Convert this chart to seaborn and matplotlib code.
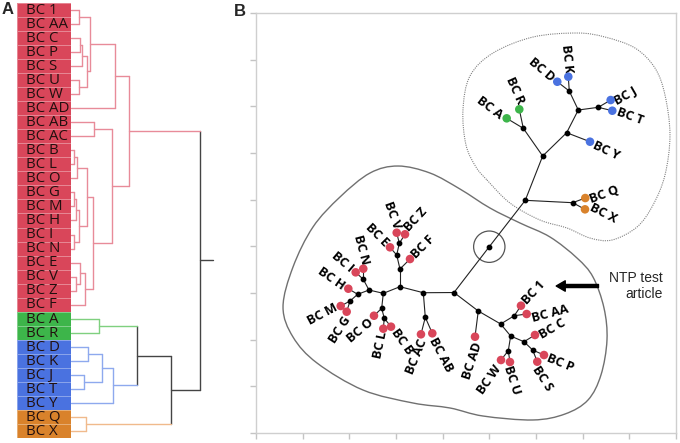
import numpy as np
import pandas as pd
import matplotlib
matplotlib.use("Agg")
import matplotlib.pyplot as plt
import seaborn as sns
from matplotlib.colors import ListedColormap
from matplotlib.path import Path
from matplotlib.patches import PathPatch, Circle

sns.set_style("white")
plt.rcParams["font.family"] = ["Open Sans", "DejaVu Sans"]

# -----------------------------
# Panel A: dendrogram data
# -----------------------------
leaf_names = ["BC 1", "BC AA", "BC C", "BC P", "BC S", "BC U", "BC W", "BC AD",
              "BC AB", "BC AC", "BC B", "BC L", "BC O", "BC G", "BC M", "BC H",
              "BC I", "BC N", "BC E", "BC V", "BC Z", "BC F", "BC A", "BC R",
              "BC D", "BC K", "BC J", "BC T", "BC Y", "BC Q", "BC X"]
leaf_groups = ["red"] * 22 + ["green"] * 2 + ["blue"] * 5 + ["orange"] * 2

# (node, left child, right child, merge distance)
merges = [
    ("1AA", "BC 1", "BC AA", 0.083),
    ("CP", "BC C", "BC P", 0.090),
    ("CPS", "CP", "BC S", 0.110),
    ("UW", "BC U", "BC W", 0.083),
    ("CPSUW", "CPS", "UW", 0.155),
    ("r1", "1AA", "CPSUW", 0.190),
    ("r2", "r1", "BC AD", 0.440),
    ("ABAC", "BC AB", "BC AC", 0.233),
    ("BL", "BC B", "BC L", 0.030),
    ("BLO", "BL", "BC O", 0.060),
    ("GM", "BC G", "BC M", 0.025),
    ("GMH", "GM", "BC H", 0.050),
    ("IN", "BC I", "BC N", 0.025),
    ("GMHIN", "GMH", "IN", 0.083),
    ("BN", "BLO", "GMHIN", 0.160),
    ("VZ", "BC V", "BC Z", 0.050),
    ("EVZ", "BC E", "VZ", 0.085),
    ("EVZF", "EVZ", "BC F", 0.143),
    ("BF", "BN", "EVZF", 0.223),
    ("ABF", "ABAC", "BF", 0.407),
    ("red", "r2", "ABF", 0.577),
    ("AR", "BC A", "BC R", 0.283),
    ("DK", "BC D", "BC K", 0.167),
    ("JT", "BC J", "BC T", 0.130),
    ("DKJT", "DK", "JT", 0.307),
    ("DKJTY", "DKJT", "BC Y", 0.423),
    ("GB", "AR", "DKJTY", 0.663),
    ("QX", "BC Q", "BC X", 0.150),
    ("GBO", "GB", "QX", 1.000),
    ("root", "red", "GBO", 1.290),
]

# -----------------------------
# Panel B: unrooted tree data
# -----------------------------
tree_leaves = ["BC A", "BC R", "BC D", "BC K", "BC J", "BC T", "BC Y", "BC Q", "BC X",
               "BC E", "BC V", "BC Z", "BC F", "BC I", "BC N", "BC H", "BC M", "BC G",
               "BC O", "BC L", "BC B", "BC AC", "BC AB", "BC AD", "BC 1", "BC AA",
               "BC C", "BC P", "BC S", "BC W", "BC U"]
tree_groups = ["green", "green", "blue", "blue", "blue", "blue", "blue", "orange", "orange"] + ["red"] * 22
leaf_x = [5.372, 5.642, 6.456, 6.692, 7.600, 7.635, 7.157, 7.056, 7.050,
          2.871, 3.015, 3.193, 3.300, 2.136, 2.299, 1.978, 1.815, 1.943,
          2.528, 2.728, 2.893, 3.535, 3.778, 4.693, 5.678, 5.800,
          5.978, 6.171, 6.027, 5.250, 5.442]
leaf_y = [6.743, 6.936, 7.527, 7.635, 7.135, 6.906, 6.242, 5.035, 4.793,
          3.979, 4.292, 4.258, 3.728, 3.443, 3.520, 3.092, 2.721, 2.599,
          2.513, 2.235, 2.278, 2.115, 2.136, 2.063, 2.728, 2.550,
          2.100, 1.671, 1.528, 1.564, 1.521]
label_x = [5.014, 5.550, 6.122, 6.657, 7.907, 8.014, 7.514, 7.457, 7.442,
           2.586, 2.908, 3.428, 3.572, 1.858, 2.250, 1.601, 1.429, 1.800,
           2.243, 2.672, 3.122, 3.443, 3.958, 4.643, 5.942, 6.300,
           6.357, 6.529, 6.143, 4.999, 5.479]
label_y = [6.957, 7.335, 7.778, 8.029, 7.227, 6.777, 6.049, 5.100, 4.708,
           4.243, 4.671, 4.564, 3.979, 3.670, 3.921, 3.300, 2.543, 2.207,
           2.192, 1.886, 1.956, 1.635, 1.671, 1.543, 3.006, 2.565,
           2.222, 1.493, 1.172, 1.151, 1.136]
label_rot = [-37, -66, -40, -84, 30, -20, -25, 20, -27,
             -45, -70, 47, 45, -40, -75, -35, 28, 57,
             40, 78, -55, 68, -62, 72, 47, 15,
             30, -22, -57, 55, -72]

inner_names = ["AR", "DK", "JT", "DKJT", "BLUE", "GB", "QX", "GBO", "ROOT", "RED",
               "AD0", "U1", "1AA", "CU", "UW", "CPS", "PS", "ABAC", "ABx", "LEFT",
               "Fn", "En", "VZ", "BN", "GN", "GH", "GM", "IN", "BO", "BL"]
inner_x = [5.728, 6.713, 7.335, 6.906, 6.657, 6.143, 6.786, 5.770, 4.999, 4.243,
           4.763, 5.243, 5.535, 5.457, 5.406, 5.742, 5.929, 3.585, 3.628, 3.085,
           3.085, 3.015, 3.071, 2.728, 2.421, 2.179, 2.014, 2.299, 2.693, 2.749]
inner_y = [6.529, 7.328, 6.979, 6.921, 6.435, 5.935, 4.935, 4.986, 3.992, 3.010,
           2.614, 2.336, 2.513, 2.078, 1.763, 1.956, 1.778, 3.006, 2.479, 3.135,
           3.514, 3.814, 4.065, 2.993, 3.064, 2.972, 2.828, 3.293, 2.672, 2.458]

edges = [("ROOT", "GBO"), ("ROOT", "RED"), ("GBO", "GB"), ("GBO", "QX"),
         ("QX", "BC Q"), ("QX", "BC X"), ("GB", "AR"), ("GB", "BLUE"),
         ("AR", "BC A"), ("AR", "BC R"), ("BLUE", "BC Y"), ("BLUE", "DKJT"),
         ("DKJT", "DK"), ("DKJT", "JT"), ("DK", "BC D"), ("DK", "BC K"),
         ("JT", "BC J"), ("JT", "BC T"), ("RED", "AD0"), ("RED", "ABAC"),
         ("AD0", "BC AD"), ("AD0", "U1"), ("U1", "1AA"), ("U1", "CU"),
         ("1AA", "BC 1"), ("1AA", "BC AA"), ("CU", "UW"), ("CU", "CPS"),
         ("UW", "BC U"), ("UW", "BC W"), ("CPS", "BC C"), ("CPS", "PS"),
         ("PS", "BC P"), ("PS", "BC S"), ("ABAC", "ABx"), ("ABAC", "LEFT"),
         ("ABx", "BC AB"), ("ABx", "BC AC"), ("LEFT", "Fn"), ("LEFT", "BN"),
         ("Fn", "BC F"), ("Fn", "En"), ("En", "BC E"), ("En", "VZ"),
         ("VZ", "BC V"), ("VZ", "BC Z"), ("BN", "GN"), ("BN", "BO"),
         ("GN", "GH"), ("GN", "IN"), ("GH", "BC H"), ("GH", "GM"),
         ("GM", "BC G"), ("GM", "BC M"), ("IN", "BC I"), ("IN", "BC N"),
         ("BO", "BC O"), ("BO", "BL"), ("BL", "BC B"), ("BL", "BC L")]

# outlines around the two clades (control points)
solid_x = [2.443, 3.043, 3.728, 4.371, 5.014, 5.657, 6.300, 6.878, 7.221, 7.457, 7.521,
           7.392, 7.114, 6.621, 5.935, 4.864, 4.157, 3.364, 2.293, 1.307, 0.793, 0.579,
           0.793, 1.221, 1.800]
solid_y = [5.571, 5.721, 5.571, 5.228, 4.821, 4.500, 4.200, 3.750, 3.343, 2.678, 1.993,
           1.243, 0.707, 0.407, 0.279, 0.364, 0.536, 0.643, 0.921, 1.500, 2.057, 2.700,
           3.557, 4.414, 5.057]
dotted_x = [4.950, 5.442, 6.085, 6.664, 7.157, 7.628, 8.164, 8.507, 8.764, 8.871, 8.764,
            8.549, 8.121, 7.478, 6.878, 5.935, 5.078, 4.585, 4.435, 4.500, 4.714]
dotted_y = [5.421, 4.928, 4.564, 4.393, 4.178, 4.135, 4.414, 4.885, 5.528, 6.385, 7.242,
            7.821, 8.250, 8.485, 8.571, 8.485, 8.142, 7.650, 6.921, 6.171, 5.700]

group_fill = {"red": "#d9465a", "green": "#3db54a", "blue": "#4a72e0", "orange": "#d9822b"}
group_line = {"red": "#e88b99", "green": "#7fd07f", "blue": "#8ea9ee", "orange": "#f0ba8c"}
dark_line = "#444444"


def closed_curve(xs, ys):
    pts = np.column_stack([xs, ys])
    n = len(pts)
    verts = [pts[0]]
    codes = [Path.MOVETO]
    for i in range(n):
        p0, p1, p2, p3 = pts[i - 1], pts[i], pts[(i + 1) % n], pts[(i + 2) % n]
        verts += [p1 + (p2 - p0) / 6, p2 - (p3 - p1) / 6, p2]
        codes += [Path.CURVE4] * 3
    return Path(verts, codes)


fig = plt.figure(figsize=(6.8, 4.43), dpi=100)

# -----------------------------
# Panel A: colour strip (heatmap)
# -----------------------------
group_order = ["red", "green", "blue", "orange"]
strip = pd.DataFrame({"group": [group_order.index(g) for g in leaf_groups]}, index=leaf_names)
axH = fig.add_axes([17 / 680, 5 / 443, 54 / 680, 435 / 443])
sns.heatmap(strip, ax=axH, cmap=ListedColormap([group_fill[g] for g in group_order]),
            vmin=-0.5, vmax=3.5, cbar=False, linewidths=0.6,
            linecolor=(1, 1, 1, 0.35), xticklabels=False, yticklabels=False)
for i, name in enumerate(leaf_names):
    axH.text(0.16, i + 0.52, name, ha="left", va="center", fontsize=10.8, color="#22100f")

# -----------------------------
# Panel A: dendrogram
# -----------------------------
axD = fig.add_axes([71 / 680, 5 / 443, 144 / 680, 435 / 443])
pos = {n: (0.0, i + 0.5) for i, n in enumerate(leaf_names)}
members = {n: {g} for n, g in zip(leaf_names, leaf_groups)}
for node, a, b, h in merges:
    pos[node] = (h, (pos[a][1] + pos[b][1]) / 2)
    members[node] = members[a] | members[b]


def node_color(n):
    m = members[n]
    return group_line[next(iter(m))] if len(m) == 1 else dark_line


for node, a, b, h in merges:
    axD.plot([h, h], [pos[a][1], pos[b][1]], color=node_color(node), lw=1.0)
    for c in (a, b):
        axD.plot([pos[c][0], h], [pos[c][1], pos[c][1]], color=node_color(c), lw=1.0)
root_h, root_y = pos["root"]
axD.plot([root_h, root_h + 0.13], [root_y, root_y], color=dark_line, lw=1.0)
axD.set_xlim(0, 1.44)
axD.set_ylim(31, 0)
axD.axis("off")

# -----------------------------
# Panel B: tree
# -----------------------------
axB = fig.add_axes([256 / 680, 10 / 443, 420 / 680, 420 / 443])
axB.set_xlim(0, 9)
axB.set_ylim(0, 9)
axB.set_xticks(range(10))
axB.set_yticks(range(10))
axB.tick_params(bottom=True, left=True, length=4, width=1, color="#c4c4c4",
                direction="out", labelbottom=False, labelleft=False)
for s in axB.spines.values():
    s.set_color("#cfcfcf")
    s.set_linewidth(1.0)

axB.add_patch(PathPatch(closed_curve(solid_x, solid_y), fill=False, ec="#707070", lw=1.0))
axB.add_patch(PathPatch(closed_curve(dotted_x, dotted_y), fill=False, ec="#808080",
                        lw=0.8, ls=(0, (1, 1))))

xy = {n: (x, y) for n, x, y in zip(tree_leaves, leaf_x, leaf_y)}
xy.update({n: (x, y) for n, x, y in zip(inner_names, inner_x, inner_y)})
for a, b in edges:
    axB.plot([xy[a][0], xy[b][0]], [xy[a][1], xy[b][1]], color="#222222", lw=0.8, zorder=2)

axB.scatter(inner_x, inner_y, s=10, color="black", zorder=3)
tree_df = pd.DataFrame({"x": leaf_x, "y": leaf_y, "group": tree_groups})
sns.scatterplot(data=tree_df, x="x", y="y", hue="group", palette=group_fill, s=38,
                edgecolor="none", legend=False, ax=axB, zorder=4)
axB.set_xlabel("")
axB.set_ylabel("")

for name, x, y, r in zip(tree_leaves, label_x, label_y, label_rot):
    axB.text(x, y, name, rotation=r, rotation_mode="anchor", ha="center", va="center",
             fontsize=9.2, fontweight="bold", color="black")

rx, ry = xy["ROOT"]
axB.add_patch(Circle((rx, ry), 0.336, fill=False, ec="#555555", lw=0.9))

axB.annotate("", xy=(6.433, 3.15), xytext=(7.339, 3.15),
             arrowprops=dict(width=2.2, headwidth=7.5, headlength=6.5,
                             facecolor="black", edgecolor="black", shrink=0))
axB.text(8.714, 3.157, "NTP test\narticle", ha="right", va="center", fontsize=10,
         family=["Liberation Sans", "DejaVu Sans"], linespacing=1.2)

fig.text(8 / 680, 1 - 10 / 443, "A", ha="center", va="center", fontsize=12,
         fontweight="bold", family=["Liberation Sans", "DejaVu Sans"])
fig.text(240 / 680, 1 - 11 / 443, "B", ha="center", va="center", fontsize=12,
         fontweight="bold", family=["Liberation Sans", "DejaVu Sans"])

fig.savefig("out.png", dpi=100)
plt.close(fig)
